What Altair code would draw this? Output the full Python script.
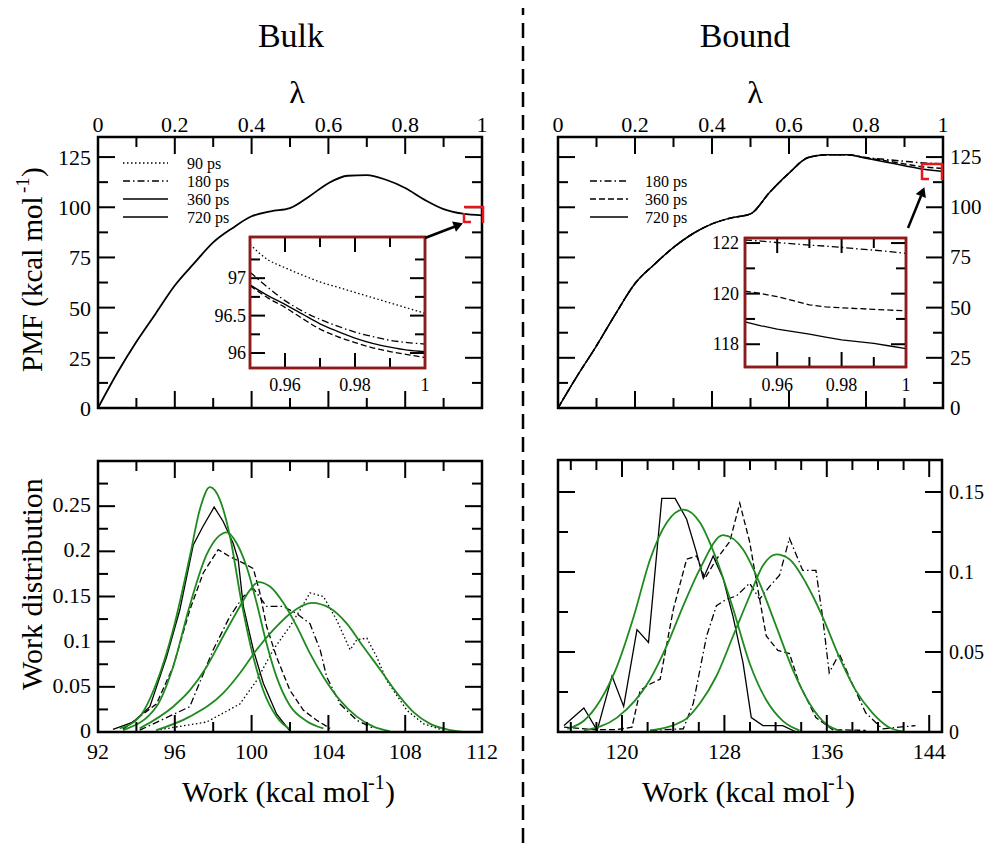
import altair as alt
import pandas as pd

FONT = "Liberation Serif"
M = 8  # page margin: geometry below is written in page pixels

# ---------------- data ----------------
lam = [0.0, 0.05, 0.1, 0.15, 0.2, 0.25, 0.3, 0.35, 0.4, 0.45, 0.5,
       0.55, 0.6, 0.65, 0.7, 0.75, 0.8, 0.85, 0.9, 0.95, 1.0]
bulk_pmf = [0.0, 17.4, 33.0, 47.0, 61.0, 72.0, 82.5, 89.6, 95.5, 98.0, 99.6,
            105.4, 112.0, 115.7, 116.0, 113.7, 109.6, 103.8, 99.1, 96.8, 96.0]
bound_pmf_180 = [0.0, 16.0, 31.0, 47.0, 62.0, 71.5, 80.0, 86.8, 91.7, 94.7, 96.7,
                 107.5, 117.0, 124.8, 126.2, 126.2, 124.8, 123.8, 122.9, 122.1, 121.6]
bound_pmf_360 = [0.0, 16.0, 31.0, 47.0, 62.0, 71.5, 80.0, 86.8, 91.7, 94.7, 96.7,
                 107.5, 117.0, 124.8, 126.2, 126.2, 124.6, 123.2, 121.6, 120.1, 119.3]
bound_pmf_720 = [0.0, 16.0, 31.0, 47.0, 62.0, 71.5, 80.0, 86.8, 91.7, 94.7, 96.7,
                 107.5, 117.0, 124.8, 126.2, 126.2, 124.4, 122.6, 120.7, 118.9, 117.8]

lam_zoom = [0.95, 0.955, 0.96, 0.965, 0.97, 0.975, 0.98, 0.985, 0.99, 0.995, 1.0]
bulk_zoom_90 = [97.45, 97.25, 97.14, 97.04, 96.95, 96.88, 96.81, 96.74, 96.67, 96.60, 96.53]
bulk_zoom_180 = [97.08, 96.88, 96.70, 96.56, 96.45, 96.36, 96.28, 96.22, 96.17, 96.14, 96.12]
bulk_zoom_360 = [96.90, 96.74, 96.61, 96.46, 96.32, 96.22, 96.14, 96.07, 96.02, 95.98, 95.94]
bulk_zoom_720 = [96.91, 96.77, 96.65, 96.52, 96.39, 96.29, 96.20, 96.13, 96.08, 96.04, 96.02]
bound_zoom_180 = [122.12, 122.08, 122.02, 121.97, 121.92, 121.88, 121.83, 121.77, 121.72, 121.66, 121.59]
bound_zoom_360 = [120.10, 120.00, 119.88, 119.72, 119.56, 119.48, 119.44, 119.41, 119.38, 119.35, 119.32]
bound_zoom_720 = [118.88, 118.73, 118.60, 118.50, 118.40, 118.28, 118.17, 118.10, 118.03, 117.93, 117.83]

# bulk work histograms (black) and fits (green)
bulk_w_720 = [92.78, 93.83, 94.70, 95.57, 96.26, 96.96, 97.48, 98.05, 98.52, 99.04, 99.30, 99.57, 100.09, 100.61, 101.30, 102.00]
bulk_p_720 = [0.003, 0.011, 0.028, 0.083, 0.135, 0.207, 0.228, 0.249, 0.233, 0.209, 0.191, 0.139, 0.091, 0.054, 0.020, 0.001]
bulk_w_360 = [93.30, 95.04, 95.91, 96.78, 97.48, 98.26, 98.87, 99.57, 100.09, 100.43, 100.78, 101.30, 102.00, 102.70, 103.39, 104.09]
bulk_p_360 = [0.003, 0.031, 0.072, 0.135, 0.176, 0.202, 0.194, 0.187, 0.181, 0.154, 0.117, 0.083, 0.046, 0.024, 0.013, 0.004]
bulk_w_180 = [94.17, 96.78, 98.00, 98.87, 99.57, 100.09, 100.78, 101.65, 102.35, 103.04, 103.57, 103.91, 104.61, 105.48, 106.35]
bulk_p_180 = [0.002, 0.028, 0.091, 0.128, 0.150, 0.159, 0.139, 0.139, 0.131, 0.120, 0.091, 0.061, 0.031, 0.013, 0.004]
bulk_w_90 = [95.04, 97.65, 99.39, 100.26, 101.13, 102.00, 102.52, 103.04, 103.74, 104.43, 105.13, 105.48, 106.00, 106.52, 107.04, 108.09, 108.96, 110.00]
bulk_p_90 = [0.002, 0.011, 0.031, 0.057, 0.091, 0.117, 0.135, 0.154, 0.150, 0.124, 0.091, 0.102, 0.104, 0.083, 0.057, 0.024, 0.009, 0.002]

bulk_fit_w_720 = [93.13, 94.17, 95.04, 95.91, 96.78, 97.30, 97.83, 98.35, 98.87, 99.48, 100.09, 100.61, 101.30, 102.00]
bulk_fit_p_720 = [0.004, 0.017, 0.054, 0.113, 0.194, 0.246, 0.271, 0.257, 0.217, 0.143, 0.083, 0.046, 0.017, 0.003]
bulk_fit_w_360 = [93.30, 95.04, 95.91, 96.78, 97.65, 98.73, 99.22, 99.74, 100.26, 100.78, 101.30, 102.00, 102.87, 103.74]
bulk_fit_p_360 = [0.002, 0.028, 0.072, 0.140, 0.196, 0.221, 0.209, 0.183, 0.143, 0.098, 0.061, 0.029, 0.012, 0.004]
bulk_fit_w_180 = [94.17, 95.91, 96.78, 97.65, 98.52, 99.39, 99.91, 100.35, 100.96, 101.65, 102.35, 103.04, 103.74, 104.61, 105.48, 106.35, 107.20]
bulk_fit_p_180 = [0.004, 0.028, 0.046, 0.072, 0.106, 0.139, 0.157, 0.166, 0.161, 0.143, 0.117, 0.087, 0.061, 0.035, 0.017, 0.006, 0.001]
bulk_fit_w_90 = [95.04, 96.78, 98.52, 99.39, 100.26, 101.13, 102.00, 103.13, 104.09, 104.96, 105.83, 106.70, 107.57, 108.43, 109.30, 110.17, 111.04]
bulk_fit_p_90 = [0.002, 0.017, 0.043, 0.065, 0.091, 0.113, 0.131, 0.143, 0.137, 0.120, 0.094, 0.069, 0.043, 0.022, 0.009, 0.003, 0.000]

# bound work histograms (black) and fits (green)
bound_w_720 = [115.47, 117.02, 118.06, 119.22, 120.13, 121.17, 122.07, 123.11, 124.15, 125.05, 125.83, 126.35, 127.12, 127.90, 128.68, 129.46, 130.10, 131.01, 132.56, 133.60]
bound_p_720 = [0.004, 0.015, 0.001, 0.035, 0.016, 0.064, 0.056, 0.146, 0.146, 0.133, 0.112, 0.096, 0.110, 0.096, 0.072, 0.043, 0.009, 0.004, 0.004, 0.000]
bound_w_360 = [115.47, 117.80, 119.60, 120.78, 121.42, 122.20, 122.98, 124.02, 125.05, 125.83, 126.48, 127.38, 128.42, 129.20, 129.97, 130.62, 131.27, 132.18, 133.08, 133.86, 135.15, 136.45, 139.04]
bound_p_360 = [0.003, 0.0015, 0.0015, 0.003, 0.026, 0.030, 0.033, 0.077, 0.108, 0.110, 0.096, 0.108, 0.119, 0.143, 0.119, 0.089, 0.060, 0.051, 0.049, 0.030, 0.009, 0.0015, 0.001]
bound_w_180 = [122.20, 124.79, 125.57, 126.61, 127.38, 128.16, 128.94, 129.97, 130.75, 131.53, 132.31, 133.08, 134.12, 135.15, 135.67, 136.19, 136.97, 138.00, 139.04, 140.34, 142.93]
bound_p_180 = [0.001, 0.002, 0.018, 0.060, 0.079, 0.083, 0.085, 0.093, 0.083, 0.091, 0.098, 0.121, 0.101, 0.101, 0.072, 0.037, 0.049, 0.030, 0.012, 0.002, 0.004]

bound_fit_w_720 = [115.73, 117.02, 118.32, 119.61, 120.91, 122.20, 123.50, 124.79, 126.09, 127.38, 128.68, 129.97, 131.27, 132.56, 133.86]
bound_fit_p_720 = [0.002, 0.007, 0.020, 0.041, 0.072, 0.108, 0.131, 0.139, 0.131, 0.108, 0.077, 0.043, 0.020, 0.007, 0.001]
bound_fit_w_360 = [117.02, 119.61, 122.20, 123.50, 124.79, 126.09, 127.90, 129.46, 130.75, 132.05, 133.34, 134.64, 135.93, 137.23]
bound_fit_p_360 = [0.001, 0.009, 0.033, 0.054, 0.079, 0.102, 0.123, 0.114, 0.093, 0.066, 0.039, 0.018, 0.005, 0.0004]
bound_fit_w_180 = [122.20, 124.79, 126.09, 127.38, 128.68, 129.97, 131.01, 132.05, 133.08, 134.38, 135.67, 136.97, 138.26, 139.56, 140.85, 141.89]
bound_fit_p_180 = [0.001, 0.007, 0.018, 0.035, 0.060, 0.085, 0.104, 0.111, 0.108, 0.093, 0.072, 0.047, 0.026, 0.012, 0.003, 0.0004]

# tick values / labels
lam_major = [0.0, 0.2, 0.4, 0.6, 0.8, 1.0]
lam_labels = ["0", "0.2", "0.4", "0.6", "0.8", "1"]
lam_minor = [0.1, 0.3, 0.5, 0.7, 0.9]
pmf_major = [0, 25, 50, 75, 100, 125]
pmf_minor = [12.5, 37.5, 62.5, 87.5, 112.5]
zoom_x_major = [0.96, 0.98, 1.0]
zoom_x_labels = ["0.96", "0.98", "1"]
zoom_x_minor = [0.97, 0.99]
bulk_zoom_y_major = [96.0, 96.5, 97.0]
bulk_zoom_y_labels = ["96", "96.5", "97"]
bulk_zoom_y_minor = [96.25, 96.75, 97.25]
bound_zoom_y_major = [118, 120, 122]
bound_zoom_y_minor = [119, 121]
bulk_work_major = [92, 96, 100, 104, 108, 112]
bulk_work_minor = [94, 98, 102, 106, 110]
bound_work_major = [120, 128, 136, 144]
bound_work_minor = [116, 118, 122, 124, 126, 130, 132, 134, 138, 140, 142]
bulk_prob_major = [0, 0.05, 0.1, 0.15, 0.2, 0.25]
bulk_prob_labels = ["0", "0.05", "0.1", "0.15", "0.2", "0.25"]
bulk_prob_minor = [0.025, 0.075, 0.125, 0.175, 0.225, 0.275]
bound_prob_major = [0, 0.05, 0.1, 0.15]
bound_prob_labels = ["0", "0.05", "0.1", "0.15"]
bound_prob_minor = [0.025, 0.075, 0.125]

legend_bulk = ["90 ps", "180 ps", "360 ps", "720 ps"]
legend_bound = ["180 ps", "360 ps", "720 ps"]

# ---------------- styling ----------------
GREEN = "#1f8a1f"
DARKRED = "#8e1b1b"
RED = "#e8141e"
DOT = [1.5, 2.5]
DASHDOT = [7, 3, 1.5, 3]
DASH = [6, 3]

ONE = pd.DataFrame({"a": [0]})


def panel(l, r, t, b, xd, yd):
    l, r, t, b = l - M, r - M, t - M, b - M
    return dict(l=l, r=r, t=t, b=b,
                xs=alt.Scale(domain=xd, range=[l, r], nice=False, zero=False),
                ys=alt.Scale(domain=yd, range=[b, t], nice=False, zero=False))


TL = panel(98, 482, 137, 408, [0, 1], [0, 135])
TR = panel(558, 943, 137, 408, [0, 1], [0, 135])
BL = panel(98, 482, 461, 732, [92, 112], [0, 0.3])
BR = panel(558, 942, 460, 732, [115, 145], [0, 0.17])
IL = panel(250, 425, 237, 368, [0.95, 1.0], [95.8, 97.55])
IR = panel(745, 906, 238, 367, [0.95, 1.0], [117.1, 122.2])

layers = []


def line(P, xs, ys, color="black", dash=None, width=1.3, interp="linear"):
    kw = dict(color=color, strokeWidth=width, interpolate=interp)
    if dash:
        kw["strokeDash"] = dash
    df = pd.DataFrame({"x": xs, "y": ys})
    layers.append(alt.Chart(df).mark_line(**kw).encode(
        x=alt.X("x:Q", scale=P["xs"], axis=None),
        y=alt.Y("y:Q", scale=P["ys"], axis=None)))


def frame(P, stroke="black", width=2.5, fill=None):
    kw = dict(stroke=stroke, strokeWidth=width)
    if fill:
        kw["fill"] = fill
    else:
        kw["fillOpacity"] = 0
    layers.append(alt.Chart(ONE).mark_rect(**kw).encode(
        x=alt.value(P["l"]), x2=alt.value(P["r"]),
        y=alt.value(P["t"]), y2=alt.value(P["b"])))


def xticks(P, vals, length, where, width=2):
    df = pd.DataFrame({"v": vals})
    if where == "top":
        y0, y1 = P["t"], P["t"] + length
    else:
        y0, y1 = P["b"], P["b"] - length
    layers.append(alt.Chart(df).mark_rule(color="black", strokeWidth=width).encode(
        x=alt.X("v:Q", scale=P["xs"], axis=None), y=alt.value(y0), y2=alt.value(y1)))


def yticks(P, vals, length, where, width=2):
    df = pd.DataFrame({"v": vals})
    if where == "left":
        x0, x1 = P["l"], P["l"] + length
    else:
        x0, x1 = P["r"], P["r"] - length
    layers.append(alt.Chart(df).mark_rule(color="black", strokeWidth=width).encode(
        y=alt.Y("v:Q", scale=P["ys"], axis=None), x=alt.value(x0), x2=alt.value(x1)))


def box_ticks(P, xmaj, xmin, ymaj, ymin, big=17, small=10):
    for w in ("top", "bottom"):
        xticks(P, xmaj, big, w)
        xticks(P, xmin, small, w)
    for w in ("left", "right"):
        yticks(P, ymaj, big, w)
        yticks(P, ymin, small, w)


def xlabels(P, vals, labs, y, size=22):
    df = pd.DataFrame({"v": vals, "lab": labs})
    layers.append(alt.Chart(df).mark_text(font=FONT, fontSize=size, align="center",
                                          baseline="alphabetic", color="black").encode(
        x=alt.X("v:Q", scale=P["xs"], axis=None), y=alt.value(y - M), text="lab:N"))


def ylabels(P, vals, labs, x, align, size=22, dy=1):
    df = pd.DataFrame({"v": vals, "lab": labs})
    layers.append(alt.Chart(df).mark_text(font=FONT, fontSize=size, align=align,
                                          baseline="middle", dy=dy, color="black").encode(
        y=alt.Y("v:Q", scale=P["ys"], axis=None), x=alt.value(x - M), text="lab:N"))


def text(s, x, y, size, align="center", angle=0, baseline="alphabetic"):
    layers.append(alt.Chart(ONE).mark_text(text=s, font=FONT, fontSize=size, align=align,
                                           baseline=baseline, angle=angle, color="black").encode(
        x=alt.value(x - M), y=alt.value(y - M)))


def seg(x0, y0, x1, y1, color="black", width=2, dash=None):
    kw = dict(color=color, strokeWidth=width)
    if dash:
        kw["strokeDash"] = dash
    layers.append(alt.Chart(ONE).mark_rule(**kw).encode(
        x=alt.value(x0 - M), y=alt.value(y0 - M), x2=alt.value(x1 - M), y2=alt.value(y1 - M)))


def head(x, y, angle, size=110):
    layers.append(alt.Chart(ONE).mark_point(shape="triangle", filled=True, color="black",
                                            opacity=1, size=size, angle=angle).encode(
        x=alt.value(x - M), y=alt.value(y - M)))


# ---------------- top left: bulk PMF ----------------
line(TL, lam, bulk_pmf, width=1.8, interp="monotone")
legend_dash = [DOT, DASHDOT, None, None]
for i, (lab, d) in enumerate(zip(legend_bulk, legend_dash)):
    yy = [163, 181, 199, 217][i]
    seg(123, yy, 168, yy, width=1.3, dash=d)
    text(lab, 187, yy + 1, 16, align="left", baseline="middle")
box_ticks(TL, lam_major, lam_minor, pmf_major, pmf_minor)
frame(TL)
xlabels(TL, lam_major, lam_labels, 132)
ylabels(TL, pmf_major, [str(v) for v in pmf_major], 91, "right")

# inset
frame(IL, stroke=DARKRED, width=2.5, fill="white")
line(IL, lam_zoom, bulk_zoom_90, dash=DOT, interp="monotone")
line(IL, lam_zoom, bulk_zoom_180, dash=DASHDOT, interp="monotone")
line(IL, lam_zoom, bulk_zoom_360, dash=DASH, interp="monotone")
line(IL, lam_zoom, bulk_zoom_720, interp="monotone")
box_ticks(IL, zoom_x_major, zoom_x_minor, bulk_zoom_y_major, bulk_zoom_y_minor, big=15, small=10)
frame(IL, stroke=DARKRED, width=2.5)
xlabels(IL, zoom_x_major, zoom_x_labels, 391, size=18)
ylabels(IL, bulk_zoom_y_major, bulk_zoom_y_labels, 246, "right", size=18)

# red marker and arrow
seg(464, 207, 483, 207, color=RED, width=2.5)
seg(483, 206, 483, 223, color=RED, width=2.5)
seg(464, 213, 464, 223, color=RED, width=2.5)
seg(464, 222, 471, 222, color=RED, width=2.5)
seg(425, 238, 455, 226.5, width=2.5)
head(457, 225.5, 69, size=120)

# ---------------- top right: bound PMF ----------------
line(TR, lam, bound_pmf_180, dash=DASHDOT, width=1.5, interp="monotone")
line(TR, lam, bound_pmf_360, dash=DASH, width=1.5, interp="monotone")
line(TR, lam, bound_pmf_720, width=1.5, interp="monotone")
for i, (lab, d) in enumerate(zip(legend_bound, [DASHDOT, DASH, None])):
    yy = [181, 199, 217][i]
    seg(590, yy, 628, yy, width=1.3, dash=d)
    text(lab, 645, yy + 1, 16, align="left", baseline="middle")
box_ticks(TR, lam_major, lam_minor, pmf_major, pmf_minor)
frame(TR)
xlabels(TR, lam_major, lam_labels, 132)
ylabels(TR, pmf_major, [str(v) for v in pmf_major], 950, "left", size=21)

frame(IR, stroke=DARKRED, width=2.5, fill="white")
line(IR, lam_zoom, bound_zoom_180, dash=DASHDOT)
line(IR, lam_zoom, bound_zoom_360, dash=DASH)
line(IR, lam_zoom, bound_zoom_720)
box_ticks(IR, zoom_x_major, zoom_x_minor, bound_zoom_y_major, bound_zoom_y_minor, big=15, small=10)
frame(IR, stroke=DARKRED, width=2.5)
xlabels(IR, zoom_x_major, zoom_x_labels, 391, size=18)
ylabels(IR, bound_zoom_y_major, [str(v) for v in bound_zoom_y_major], 739, "right", size=18)

seg(922, 164, 942, 164, color=RED, width=2.5)
seg(942, 163, 942, 180, color=RED, width=2.5)
seg(922, 163, 922, 180, color=RED, width=2.5)
seg(922, 179, 929, 179, color=RED, width=2.5)
seg(908, 228, 921, 196, width=2.5)
head(922, 193, 22, size=120)

# ---------------- bottom left: bulk work ----------------
line(BL, bulk_w_90, bulk_p_90, dash=DOT)
line(BL, bulk_w_180, bulk_p_180, dash=DASHDOT)
line(BL, bulk_w_360, bulk_p_360, dash=DASH)
line(BL, bulk_w_720, bulk_p_720)
for w_, p_ in [(bulk_fit_w_90, bulk_fit_p_90), (bulk_fit_w_180, bulk_fit_p_180),
               (bulk_fit_w_360, bulk_fit_p_360), (bulk_fit_w_720, bulk_fit_p_720)]:
    line(BL, w_, p_, color=GREEN, width=1.8, interp="monotone")
box_ticks(BL, bulk_work_major, bulk_work_minor, bulk_prob_major, bulk_prob_minor)
frame(BL)
xlabels(BL, bulk_work_major, [str(v) for v in bulk_work_major], 759)
ylabels(BL, bulk_prob_major, bulk_prob_labels, 91, "right", dy=-1)

# ---------------- bottom right: bound work ----------------
line(BR, bound_w_180, bound_p_180, dash=DASHDOT)
line(BR, bound_w_360, bound_p_360, dash=DASH)
line(BR, bound_w_720, bound_p_720)
for w_, p_ in [(bound_fit_w_180, bound_fit_p_180), (bound_fit_w_360, bound_fit_p_360),
               (bound_fit_w_720, bound_fit_p_720)]:
    line(BR, w_, p_, color=GREEN, width=1.8, interp="monotone")
box_ticks(BR, bound_work_major, bound_work_minor, bound_prob_major, bound_prob_minor)
frame(BR)
xlabels(BR, bound_work_major, [str(v) for v in bound_work_major], 759)
ylabels(BR, bound_prob_major, bound_prob_labels, 949, "left", size=20)

# ---------------- titles and axis titles ----------------
text("Bulk", 291, 47, 34)
text("Bound", 745, 47, 34)
text("λ", 297, 103, 32)
text("λ", 755, 103, 32)

# PMF title (rotated) with superscript
text("PMF (kcal mol", 42, 372, 29, align="left", angle=270)
text("-1", 29, 193, 19, align="left", angle=270)
text(")", 42, 177, 29, align="left", angle=270)
text("Work distribution", 42, 584, 30, align="center", angle=270)

for x0 in (182, 642):
    text("Work (kcal mol", x0, 802, 30, align="left")
    text("-1", x0 + 186, 789, 20, align="left")
    text(")", x0 + 203, 802, 30, align="left")

# vertical dashed divider
seg(523, 0, 523, 855, width=2.5, dash=[15, 8])

chart = alt.layer(*layers).resolve_scale(x="independent", y="independent").properties(
    width=979, height=839, padding=0,
    autosize=alt.AutoSizeParams(type="none"),
    background="white",
).configure_view(stroke=None)

chart.save("out.html", embed_options={"renderer": "svg", "actions": False})
